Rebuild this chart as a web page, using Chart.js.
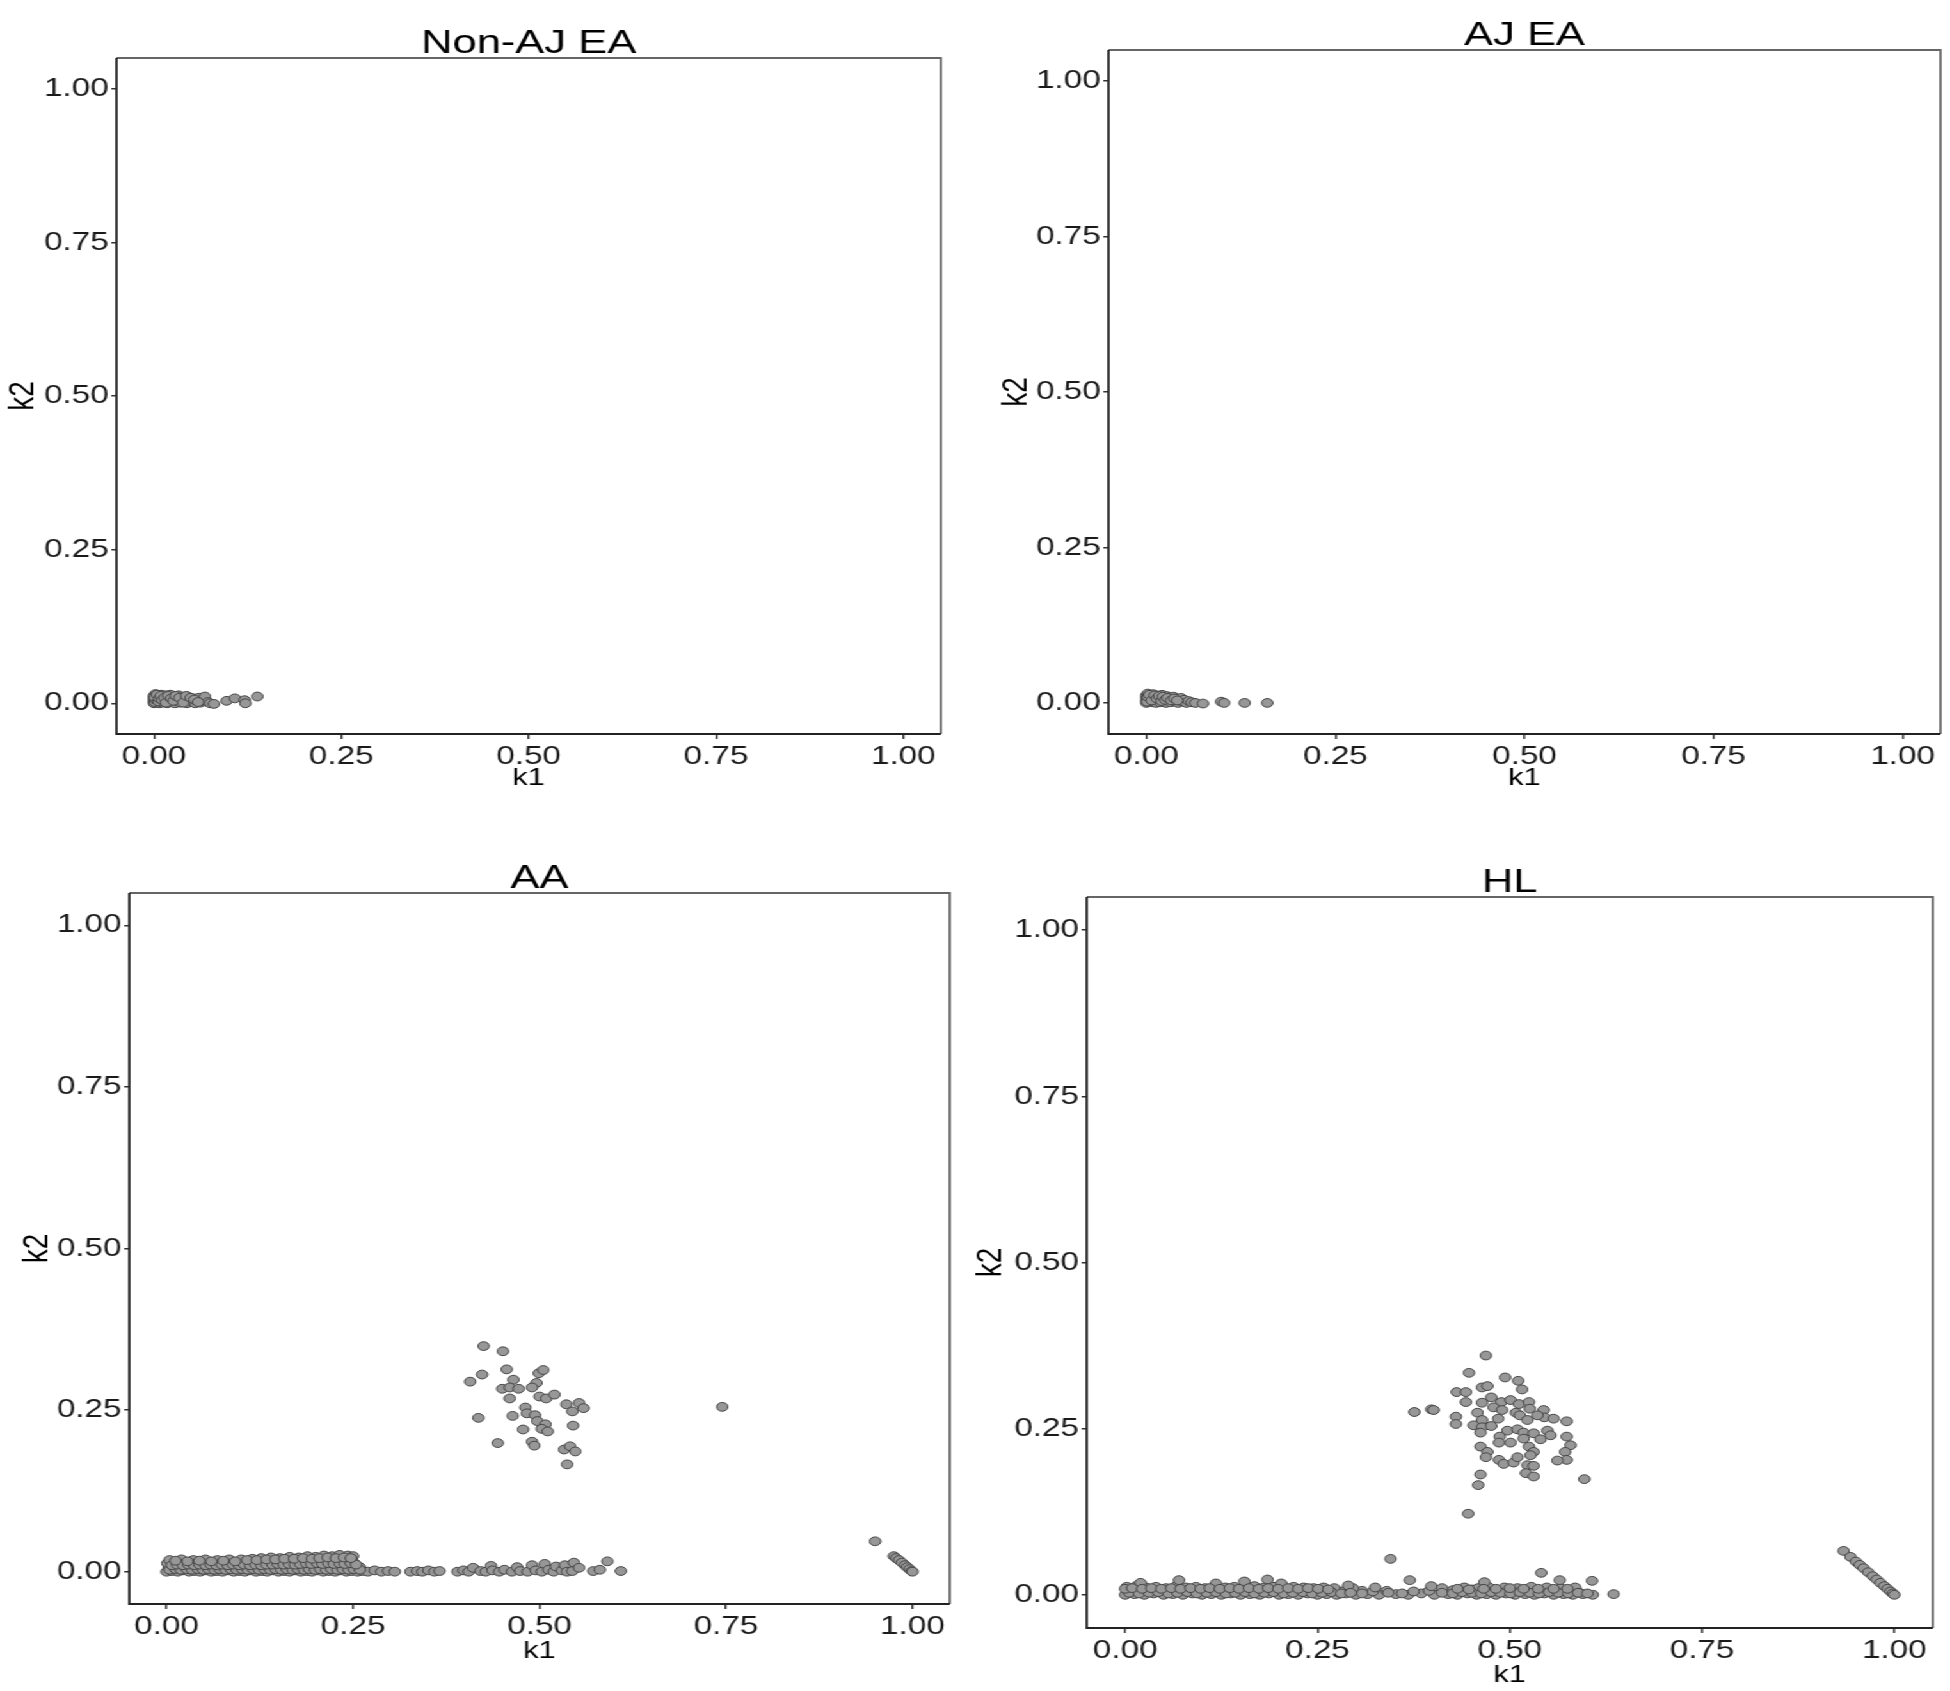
<!DOCTYPE html>
<html>
<head>
<meta charset="utf-8">
<script src="https://cdn.jsdelivr.net/npm/chart.js@4.4.1/dist/chart.umd.min.js"></script>
<style>
  html, body { margin: 0; padding: 0; background: #fff; overflow: hidden; width: 1950px; height: 1691px; }
  /* the source figure is stretched sideways, so the whole stage is too */
  #stage { position: absolute; left: 0; top: 0; width: 1524px; height: 1691px; transform: scaleX(1.28); transform-origin: 0 0; }
  #stage canvas { position: absolute; }
</style>
</head>
<body>
<div id="stage">
  <canvas id="p1" width="760" height="796" style="left:0px;top:0px"></canvas>
  <canvas id="p2" width="748" height="796" style="left:775px;top:0px"></canvas>
  <canvas id="p3" width="760" height="836" style="left:0px;top:830px"></canvas>
  <canvas id="p4" width="773" height="860" style="left:750px;top:830px"></canvas>
</div>
<script>
const tickValues = [0, 0.25, 0.5, 0.75, 1];
const titles = ["Non-AJ EA", "AJ EA", "AA", "HL"];

// [k1, k2] per pair
const nonAjPoints = [
  [0,0],[0,0.004],[0,0.008],[0,0.012],[0.002,0.015],[0.003,0.002],[0.004,0.010],[0.005,0.006],
  [0.006,0.013],[0.007,0],[0.008,0.004],[0.009,0.009],[0.010,0.014],[0.011,0.001],[0.012,0.006],
  [0.013,0.011],[0.015,0.003],[0.016,0.008],[0.017,0.013],[0.018,0],[0.020,0.005],[0.021,0.010],
  [0.022,0.014],[0.024,0.002],[0.025,0.007],[0.027,0.011],[0.028,0],[0.030,0.004],[0.031,0.009],
  [0.033,0.013],[0.035,0.001],[0.036,0.006],[0.038,0.010],[0.040,0.003],[0.042,0.008],[0.044,0],
  [0.045,0.011],[0.047,0.005],[0.050,0.002],[0.052,0.008],[0.055,0],[0.057,0.004],[0.060,0.009],
  [0.062,0.001],[0.065,0.004],[0.068,0.011],[0.072,0.002],[0.075,0],[0.080,-0.001],[0.097,0.004],
  [0.108,0.008],[0.121,0.005],[0.122,0],[0.138,0.011],
  [0.001,0.002],[0.002,0.006],[0.001,0.010],[0.004,0.014],[0.006,0.003],[0.007,0.008],[0.009,0.012],
  [0.011,0.005],[0.014,0.009],[0.016,0.001],[0.019,0.012],[0.023,0.008],[0.026,0.004],[0.029,0.012],
  [0.034,0.009],[0.039,0.001],[0.043,0.012],[0.049,0.009],[0.054,0.006],[0.059,0.002]
];

const ajPoints = [
  [0,0],[0,0.004],[0,0.008],[0,0.012],[0.002,0.015],[0.003,0.002],[0.005,0.006],[0.006,0.011],
  [0.008,0.001],[0.009,0.014],[0.010,0.004],[0.012,0.009],[0.013,0],[0.015,0.012],[0.016,0.005],
  [0.018,0.001],[0.019,0.009],[0.021,0.013],[0.023,0.003],[0.024,0.007],[0.026,0],[0.027,0.011],
  [0.029,0.005],[0.031,0.009],[0.032,0.001],[0.034,0.006],[0.036,0.010],[0.038,0.002],[0.040,0.007],
  [0.042,0],[0.044,0.004],[0.046,0.008],[0.048,0.002],[0.050,0.005],[0.053,0],[0.056,0.003],
  [0.060,0.001],[0.065,0],[0.075,-0.001],[0.099,0.002],[0.103,0],[0.130,0],[0.160,0],
  [0.001,0.002],[0.002,0.010],[0.004,0.013],[0.007,0.004],[0.011,0.012],[0.014,0.007],[0.017,0.011],
  [0.020,0.003],[0.022,0.010],[0.025,0.005],[0.028,0.008],[0.033,0.004],[0.037,0.007],[0.041,0.004]
];

const aaBand = [
  [0,0],[0.007,0.001],[0.015,0],[0.022,0.002],[0.030,0],[0.037,0.001],[0.045,0],[0.052,0.002],
  [0.060,0],[0.067,0.001],[0.075,0],[0.083,0.002],[0.090,0],[0.098,0.001],[0.105,0],[0.112,0.002],
  [0.120,0],[0.128,0.001],[0.135,0],[0.143,0.002],[0.150,0],[0.158,0.001],[0.165,0],[0.173,0.002],
  [0.180,0],[0.188,0.001],[0.195,0],[0.203,0.002],[0.210,0],[0.218,0.001],[0.226,0],[0.233,0.002],
  [0.241,0],[0.248,0.001],[0.256,0],[0.263,0.001],
  [0.003,0.007],[0.011,0.006],[0.019,0.008],[0.026,0.006],[0.034,0.007],[0.041,0.008],[0.049,0.006],
  [0.057,0.007],[0.064,0.008],[0.072,0.006],[0.079,0.007],[0.087,0.008],[0.094,0.006],[0.102,0.007],
  [0.109,0.008],[0.117,0.006],[0.124,0.007],[0.132,0.008],[0.139,0.006],[0.147,0.007],[0.154,0.008],
  [0.162,0.006],[0.169,0.007],[0.177,0.008],[0.184,0.006],[0.192,0.007],[0.199,0.008],[0.207,0.006],
  [0.214,0.007],[0.222,0.008],[0.229,0.006],[0.237,0.007],[0.244,0.008],[0.252,0.006],[0.259,0.007],
  [0.001,0.013],[0.009,0.014],[0.017,0.012],[0.025,0.013],[0.033,0.014],[0.040,0.012],[0.048,0.013],
  [0.056,0.014],[0.063,0.012],[0.071,0.013],[0.078,0.012],[0.086,0.014],[0.093,0.013],[0.101,0.012],
  [0.108,0.014],[0.116,0.013],[0.123,0.015],[0.131,0.013],[0.139,0.014],[0.146,0.015],[0.153,0.013],
  [0.161,0.016],[0.168,0.014],[0.176,0.015],[0.183,0.016],[0.191,0.014],[0.198,0.016],[0.206,0.015],
  [0.213,0.017],[0.221,0.016],[0.228,0.015],[0.236,0.017],[0.243,0.016],[0.251,0.014],
  [0.004,0.018],[0.020,0.019],[0.036,0.018],[0.052,0.019],[0.068,0.018],[0.084,0.019],[0.100,0.019],
  [0.115,0.020],[0.127,0.021],[0.140,0.022],[0.152,0.021],[0.165,0.023],[0.177,0.022],[0.189,0.024],
  [0.200,0.023],[0.211,0.025],[0.222,0.024],[0.232,0.026],[0.243,0.025],[0.250,0.024],
  [0.270,0],[0.279,0.002],[0.288,0],[0.297,0.001],[0.306,0],[0.327,0],[0.336,0.001],[0.343,0],
  [0.351,0.002],[0.359,0],[0.366,0.001],[0.390,0],[0.398,0.002],[0.405,0],[0.411,0.006],[0.421,0.001],
  [0.428,0],[0.435,0.009],[0.437,0.002],[0.446,0],[0.453,0.003],[0.463,0],[0.470,0.007],[0.474,0.001],
  [0.484,0],[0.490,0.010],[0.495,0.002],[0.503,0],[0.507,0.012],[0.512,0.003],[0.519,0],[0.522,0.008],
  [0.530,0.002],[0.534,0.010],[0.537,0],[0.544,0.001],[0.546,0.014],[0.553,0.006],[0.572,0.001],
  [0.581,0.003],[0.591,0.016],[0.609,0.001]
];

// extra overlapping marks that make the dense band look dark
const aaBandFill = [
  [0.004,0.003],[0.012,0.004],[0.019,0.003],[0.027,0.004],[0.034,0.003],[0.042,0.004],[0.049,0.003],
  [0.056,0.004],[0.064,0.003],[0.071,0.004],[0.079,0.003],[0.086,0.004],[0.094,0.003],[0.101,0.004],
  [0.109,0.003],[0.116,0.004],[0.124,0.003],[0.131,0.004],[0.139,0.003],[0.146,0.004],[0.154,0.003],
  [0.161,0.004],[0.169,0.003],[0.176,0.004],[0.184,0.003],[0.191,0.004],[0.199,0.003],[0.206,0.004],
  [0.214,0.003],[0.221,0.004],[0.229,0.003],[0.236,0.004],[0.244,0.003],[0.251,0.004],[0.259,0.003],
  [0.007,0.010],[0.014,0.011],[0.022,0.010],[0.029,0.011],[0.037,0.010],[0.044,0.011],[0.052,0.010],
  [0.059,0.011],[0.067,0.010],[0.074,0.011],[0.082,0.010],[0.089,0.011],[0.097,0.010],[0.104,0.011],
  [0.112,0.010],[0.119,0.011],[0.127,0.010],[0.134,0.011],[0.142,0.011],[0.149,0.012],[0.157,0.011],
  [0.164,0.012],[0.172,0.011],[0.179,0.012],[0.187,0.013],[0.194,0.012],[0.202,0.013],[0.209,0.012],
  [0.217,0.013],[0.224,0.012],[0.232,0.013],[0.239,0.012],[0.247,0.013],[0.254,0.011],
  [0.012,0.017],[0.028,0.016],[0.044,0.017],[0.060,0.016],[0.076,0.017],[0.092,0.016],[0.108,0.018],
  [0.121,0.018],[0.134,0.019],[0.146,0.019],[0.158,0.020],[0.171,0.020],[0.183,0.021],[0.195,0.020],
  [0.205,0.021],[0.216,0.022],[0.227,0.021],[0.238,0.022],[0.247,0.021]
];

const aaCluster = [
  [0.425,0.349],[0.451,0.341],[0.423,0.305],[0.407,0.294],[0.456,0.313],[0.465,0.297],[0.450,0.283],
  [0.460,0.285],[0.472,0.283],[0.460,0.268],[0.499,0.307],[0.505,0.312],[0.496,0.292],[0.490,0.285],
  [0.500,0.271],[0.509,0.268],[0.520,0.274],[0.536,0.259],[0.553,0.261],[0.559,0.253],[0.544,0.248],
  [0.418,0.238],[0.464,0.241],[0.481,0.254],[0.483,0.245],[0.494,0.242],[0.497,0.233],[0.508,0.228],
  [0.503,0.221],[0.511,0.217],[0.478,0.220],[0.545,0.226],[0.444,0.199],[0.490,0.201],[0.493,0.195],
  [0.533,0.189],[0.541,0.194],[0.548,0.186],[0.537,0.166],[0.745,0.255]
];

const aaDiagonal = [
  [0.950,0.047],[0.975,0.024],[0.978,0.021],[0.982,0.018],[0.986,0.014],[0.990,0.010],
  [0.993,0.007],[0.996,0.004],[0.999,0.001],[1.000,0]
];

const hlBand = [
  [0,0],[0.012,0.001],[0.025,0],[0.037,0.002],[0.050,0],[0.062,0.001],[0.075,0],[0.087,0.002],
  [0.100,0],[0.112,0.001],[0.125,0],[0.137,0.002],[0.150,0],[0.162,0.001],[0.175,0],[0.187,0.002],
  [0.200,0],[0.212,0.001],[0.225,0],[0.237,0.002],[0.250,0],[0.262,0.001],[0.275,0],[0.287,0.002],
  [0.300,0],[0.315,0.001],[0.330,0],[0.352,0.001],[0.368,0],[0.385,0.002],[0.402,0],[0.420,0.001],
  [0.432,0],[0.445,0.002],[0.457,0],[0.470,0.001],[0.482,0],[0.495,0.002],[0.507,0],[0.520,0.001],
  [0.532,0],[0.545,0.002],[0.557,0],[0.570,0.001],[0.582,0],[0.595,0.001],[0.608,0],
  [0.006,0.006],[0.018,0.007],[0.031,0.005],[0.043,0.008],[0.056,0.006],[0.068,0.007],[0.081,0.005],
  [0.093,0.008],[0.106,0.006],[0.118,0.007],[0.131,0.005],[0.143,0.008],[0.156,0.006],[0.168,0.007],
  [0.181,0.005],[0.193,0.008],[0.206,0.006],[0.218,0.007],[0.231,0.005],[0.243,0.008],[0.256,0.006],
  [0.268,0.007],[0.281,0.005],[0.293,0.007],[0.308,0.006],[0.322,0.005],[0.340,0.006],[0.375,0.005],
  [0.395,0.006],[0.426,0.007],[0.438,0.005],[0.451,0.008],[0.463,0.006],[0.476,0.007],[0.488,0.005],
  [0.501,0.008],[0.513,0.006],[0.526,0.007],[0.538,0.005],[0.551,0.008],[0.563,0.006],[0.576,0.007],
  [0.588,0.005],
  [0.002,0.012],[0.014,0.013],[0.027,0.011],[0.040,0.012],[0.053,0.010],[0.066,0.013],[0.079,0.011],
  [0.092,0.012],[0.104,0.010],[0.117,0.013],[0.130,0.011],[0.142,0.012],[0.155,0.010],[0.168,0.013],
  [0.180,0.011],[0.193,0.012],[0.206,0.010],[0.219,0.012],[0.232,0.011],[0.245,0.010],[0.258,0.011],
  [0.272,0.010],[0.296,0.010],[0.325,0.011],[0.412,0.010],[0.441,0.011],[0.459,0.010],[0.472,0.012],
  [0.493,0.011],[0.510,0.010],[0.528,0.012],[0.548,0.011],[0.566,0.010],[0.585,0.011],
  [0.020,0.018],[0.070,0.022],[0.118,0.017],[0.155,0.020],[0.185,0.023],[0.203,0.017],[0.290,0.014],
  [0.345,0.054],[0.370,0.022],[0.398,0.013],[0.467,0.019],[0.541,0.033],[0.565,0.022],[0.607,0.021],
  [0.635,0.001]
];

const hlBandFill = [
  [0.005,0.003],[0.018,0.002],[0.031,0.003],[0.043,0.004],[0.056,0.002],[0.068,0.003],[0.081,0.004],
  [0.093,0.002],[0.106,0.003],[0.118,0.004],[0.131,0.002],[0.143,0.003],[0.156,0.004],[0.168,0.002],
  [0.181,0.003],[0.193,0.004],[0.206,0.002],[0.218,0.003],[0.231,0.004],[0.243,0.002],[0.256,0.003],
  [0.268,0.004],[0.281,0.002],[0.293,0.003],[0.308,0.002],[0.342,0.003],[0.360,0.002],[0.412,0.003],
  [0.426,0.002],[0.438,0.004],[0.451,0.003],[0.463,0.002],[0.476,0.004],[0.488,0.003],[0.501,0.002],
  [0.513,0.004],[0.526,0.003],[0.538,0.002],[0.551,0.004],[0.563,0.003],[0.576,0.002],[0.589,0.003],
  [0.601,0.002],
  [0.000,0.009],[0.009,0.010],[0.022,0.009],[0.034,0.010],[0.047,0.009],[0.060,0.010],[0.072,0.009],
  [0.085,0.010],[0.098,0.009],[0.110,0.010],[0.123,0.009],[0.136,0.010],[0.148,0.009],[0.161,0.010],
  [0.174,0.009],[0.186,0.010],[0.199,0.009],[0.212,0.010],[0.225,0.009],[0.238,0.010],[0.251,0.009],
  [0.264,0.008],[0.432,0.009],[0.447,0.008],[0.466,0.009],[0.482,0.009],[0.500,0.010],[0.518,0.009],
  [0.537,0.009],[0.557,0.009],[0.575,0.009]
];

const hlCluster = [
  [0.469,0.360],[0.447,0.334],[0.494,0.327],[0.511,0.322],[0.516,0.309],[0.431,0.305],[0.443,0.305],
  [0.443,0.290],[0.464,0.312],[0.471,0.314],[0.476,0.297],[0.464,0.289],[0.489,0.290],[0.501,0.293],
  [0.512,0.287],[0.525,0.290],[0.526,0.280],[0.479,0.282],[0.490,0.278],[0.458,0.274],[0.376,0.275],
  [0.398,0.279],[0.401,0.278],[0.430,0.268],[0.430,0.257],[0.453,0.255],[0.464,0.263],[0.485,0.265],
  [0.508,0.274],[0.513,0.270],[0.523,0.263],[0.544,0.278],[0.545,0.267],[0.557,0.265],[0.574,0.261],
  [0.536,0.270],[0.464,0.252],[0.476,0.254],[0.462,0.244],[0.497,0.247],[0.510,0.249],[0.518,0.244],
  [0.531,0.243],[0.549,0.247],[0.553,0.240],[0.487,0.238],[0.501,0.229],[0.486,0.229],[0.518,0.235],
  [0.540,0.234],[0.574,0.238],[0.579,0.225],[0.572,0.215],[0.574,0.203],[0.462,0.223],[0.471,0.215],
  [0.469,0.207],[0.486,0.203],[0.492,0.197],[0.505,0.199],[0.510,0.207],[0.525,0.223],[0.531,0.215],
  [0.527,0.210],[0.523,0.195],[0.531,0.194],[0.521,0.183],[0.531,0.178],[0.562,0.202],[0.462,0.181],
  [0.459,0.165],[0.597,0.174],[0.446,0.122]
];

const hlDiagonal = [
  [0.934,0.066],[0.943,0.057],[0.950,0.050],[0.955,0.045],[0.960,0.040],[0.966,0.034],[0.972,0.028],
  [0.977,0.023],[0.982,0.018],[0.987,0.013],[0.991,0.009],[0.995,0.005],[0.998,0.002],[1.000,0]
];

const FONT = "'Liberation Sans', Arial, Helvetica, sans-serif";

function framePlugin(title) {
  return {
    id: "frame",
    afterDraw(chart) {
      const { ctx, chartArea: a } = chart;
      ctx.save();
      ctx.lineWidth = 1.8;
      ctx.strokeStyle = "#666";
      ctx.beginPath();
      ctx.moveTo(a.left, a.top);
      ctx.lineTo(a.right, a.top);
      ctx.lineTo(a.right, a.bottom);
      ctx.stroke();
      ctx.strokeStyle = "#222";
      ctx.beginPath();
      ctx.moveTo(a.left, a.top);
      ctx.lineTo(a.left, a.bottom);
      ctx.lineTo(a.right, a.bottom);
      ctx.stroke();
      ctx.fillStyle = "#000";
      ctx.font = "34px " + FONT;
      ctx.textAlign = "center";
      ctx.textBaseline = "alphabetic";
      ctx.fillText(title, (a.left + a.right) / 2, a.top - 5.5);
      ctx.restore();
    },
  };
}

function axis(opts) {
  return {
    type: "linear",
    min: -0.05,
    max: 1.05,
    afterBuildTicks: (s) => { s.ticks = tickValues.map((v) => ({ value: v })); },
    afterFit: opts.fit,
    ticks: {
      callback: (v) => Number(v).toFixed(2),
      font: { family: FONT, size: 26 },
      color: "#1a1a1a",
      padding: opts.tickPad,
      maxRotation: 0,
      autoSkip: false,
    },
    grid: { drawOnChartArea: false, drawTicks: true, tickLength: opts.tickLen, color: "#333", lineWidth: 1.5 },
    border: { display: false },
    title: { display: true, text: opts.label, color: "#000", font: { family: FONT, size: opts.labelSize }, padding: opts.labelPad },
  };
}

function panel(id, title, points, lay) {
  return new Chart(document.getElementById(id), {
    type: "scatter",
    data: {
      datasets: [{
        data: points.map(([x, y]) => ({ x, y })),
        pointRadius: 4.4,
        pointHoverRadius: 4.4,
        pointBorderWidth: 1,
        pointBackgroundColor: "#979797",
        pointBorderColor: "#444444",
      }],
    },
    options: {
      responsive: false,
      animation: false,
      events: [],
      layout: { padding: { top: lay.top, right: lay.right, left: 0, bottom: 0 } },
      plugins: { legend: { display: false }, tooltip: { enabled: false } },
      scales: {
        x: axis({ fit: (s) => { s.height = 62; }, tickPad: 2, tickLen: 5, label: "k1", labelSize: 24,
                  labelPad: { top: 0, bottom: lay.xtPad } }),
        y: axis({ fit: (s) => { s.width = lay.yw; }, tickPad: 2, tickLen: 4, label: "k2", labelSize: 28,
                  labelPad: { top: lay.ytPad, bottom: 0 } }),
      },
    },
    plugins: [framePlugin(title)],
  });
}

panel("p1", titles[0], nonAjPoints, { top: 58, right: 25, yw: 91, ytPad: 1, xtPad: 3 });
panel("p2", titles[1], ajPoints, { top: 50, right: 7, yw: 91, ytPad: 2, xtPad: 3 });
panel("p3", titles[2], aaBand.concat(aaBandFill, aaCluster, aaDiagonal), { top: 63, right: 18, yw: 101, ytPad: 12.5, xtPad: 0 });
panel("p4", titles[3], hlBand.concat(hlBandFill, hlCluster, hlDiagonal), { top: 67, right: 13, yw: 99, ytPad: 7.7, xtPad: 0 });
</script>
</body>
</html>
